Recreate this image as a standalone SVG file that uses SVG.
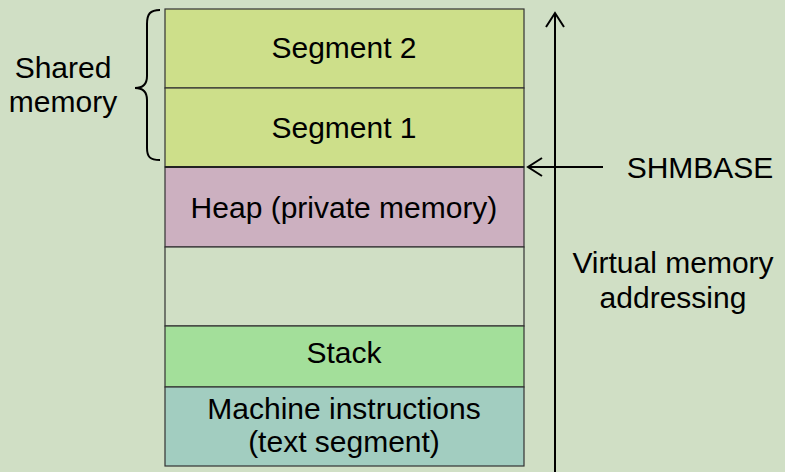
<svg xmlns="http://www.w3.org/2000/svg" width="785" height="472" viewBox="0 0 785 472">
<defs>
<style>
.t{font-family:"Liberation Sans",Arial,sans-serif;font-size:30px;fill:#000;text-anchor:middle}
.blk{stroke:#333;stroke-width:1.2}
.ln{stroke:#000;stroke-width:2;fill:none}
</style>
<marker id="open" viewBox="0 0 20 20" refX="18" refY="10" markerWidth="20" markerHeight="20" markerUnits="userSpaceOnUse" orient="auto">
<path d="M4,1 L18,10 L4,19" fill="none" stroke="#000" stroke-width="2"/>
</marker>
</defs>
<rect width="785" height="472" fill="#d0dfc5"/>
<g id="seg2"><rect class="blk" x="165" y="9" width="359" height="79" fill="#cddf8a"/><text class="t" x="344" y="58">Segment 2</text></g>
<g id="seg1"><rect class="blk" x="165" y="88" width="359" height="79" fill="#cddf8a"/><text class="t" x="344" y="138">Segment 1</text></g>
<g id="heap"><rect class="blk" x="165" y="167" width="359" height="80" fill="#ccb0c0"/><text class="t" x="344" y="218">Heap (private memory)</text></g>
<g id="empty"><rect class="blk" x="165" y="247" width="359" height="79" fill="#d0dfc5"/></g>
<g id="stack"><rect class="blk" x="165" y="326" width="359" height="61" fill="#a3df9a"/><text class="t" x="344" y="363">Stack</text></g>
<g id="text"><rect class="blk" x="165" y="387" width="359" height="79" fill="#a2cdc0"/><text class="t" x="344" y="419">Machine instructions</text><text class="t" x="344" y="452">(text segment)</text></g>
<line x1="165" y1="167" x2="524" y2="167" stroke="#222" stroke-width="2"/>
<g id="shared"><path class="ln" stroke-width="1.3" d="M160,10 C150,10 147,14 147,24 L147,76 C147,84 143,88 135,88 C143,88 147,92 147,100 L147,148 C147,157 150,160 160,160"/><text class="t" x="63" y="78">Shared</text><text class="t" x="63" y="112">memory</text></g>
<g id="connectors">
<line class="ln" x1="555" y1="472" x2="555" y2="13" marker-end="url(#open)"/>
<line class="ln" x1="603" y1="167" x2="528" y2="167" marker-end="url(#open)"/>
</g>
<g id="labels"><text class="t" x="700" y="178">SHMBASE</text><text class="t" x="673" y="273">Virtual memory</text><text class="t" x="673" y="308">addressing</text></g>
</svg>
